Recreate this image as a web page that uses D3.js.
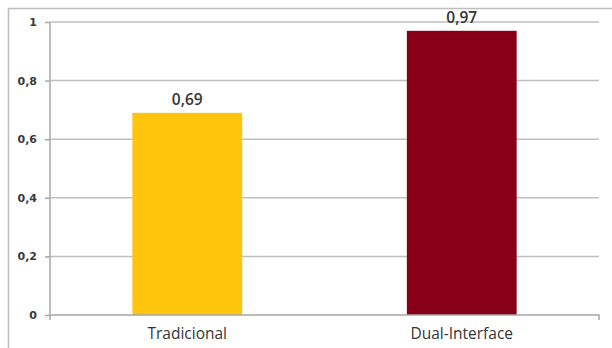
<!DOCTYPE html>
<html>
<head>
<meta charset="utf-8">
<script src="https://cdn.jsdelivr.net/npm/d3@7/dist/d3.min.js"></script>
<style>
  html, body { margin: 0; padding: 0; background: #fff; }
  svg { display: block; }
</style>
</head>
<body>
<svg id="chart" width="612" height="348"></svg>
<script>
// Chart data
const categories = ["Tradicional", "Dual-Interface"];
const values = [0.69, 0.97];
const barColors = ["#FFC50D", "#870018"];
const yTicks = [0, 0.2, 0.4, 0.6, 0.8, 1];
const yTickLabels = ["0", "0,2", "0,4", "0,6", "0,8", "1"];
const valueLabels = ["0,69", "0,97"];

(function () {
  const svg = d3.select("#chart");
  const W = 612, H = 348;
  const plotLeft = 50, plotRight = 599, plotTop = 22, plotBottom = 315;

  // Outer chart frame (top and left edges visible)
  svg.append("path")
    .attr("d", `M8.5,${H} V8.5 H${W}`)
    .attr("fill", "none")
    .attr("stroke", "#bdbdbd")
    .attr("stroke-width", 1.5);

  const x = d3.scaleBand()
    .domain(categories)
    .range([plotLeft, plotRight])
    .paddingInner(0.6)
    .paddingOuter(0.3);

  const y = d3.scaleLinear().domain([0, 1]).range([plotBottom, plotTop]);

  // Horizontal gridlines
  svg.append("g")
    .selectAll("line")
    .data(yTicks.filter(d => d > 0))
    .join("line")
    .attr("x1", plotLeft).attr("x2", plotRight)
    .attr("y1", d => y(d)).attr("y2", d => y(d))
    .attr("stroke", "#bfbfbf")
    .attr("stroke-width", 1.5);

  // Bars
  svg.append("g")
    .selectAll("rect")
    .data(values)
    .join("rect")
    .attr("x", (d, i) => x(categories[i]))
    .attr("width", x.bandwidth())
    .attr("y", d => y(d))
    .attr("height", d => y(0) - y(d))
    .attr("fill", (d, i) => barColors[i]);

  // Y axis
  const yAxis = d3.axisLeft(y)
    .tickValues(yTicks)
    .tickFormat((d, i) => yTickLabels[i])
    .tickSize(5)
    .tickPadding(8);

  const gy = svg.append("g")
    .attr("transform", `translate(${plotLeft},0)`)
    .call(yAxis);
  gy.select(".domain").remove();
  gy.selectAll(".tick line").attr("stroke", "#a6a6a6").attr("stroke-width", 1.5);
  gy.selectAll(".tick text")
    .attr("font-family", "'DejaVu Sans', Verdana, sans-serif")
    .attr("font-size", 11)
    .attr("font-weight", "bold")
    .attr("fill", "#3a3a3a");

  // Vertical axis line (extends slightly below zero)
  svg.append("line")
    .attr("x1", plotLeft).attr("x2", plotLeft)
    .attr("y1", plotTop).attr("y2", plotBottom + 5)
    .attr("stroke", "#a6a6a6")
    .attr("stroke-width", 1.5);

  // X axis baseline with end tick
  svg.append("path")
    .attr("d", `M${plotLeft},${plotBottom} H${plotRight} V${plotBottom + 5}`)
    .attr("fill", "none")
    .attr("stroke", "#a6a6a6")
    .attr("stroke-width", 1.5);

  // Category labels
  svg.append("g")
    .selectAll("text")
    .data(categories)
    .join("text")
    .attr("x", d => x(d) + x.bandwidth() / 2)
    .attr("y", 339)
    .attr("text-anchor", "middle")
    .attr("font-family", "'Open Sans', 'Liberation Sans', sans-serif")
    .attr("font-size", 15.5)
    .attr("font-weight", 500)
    .attr("fill", "#353535")
    .text(d => d);

  // Value labels above bars
  svg.append("g")
    .selectAll("text")
    .data(values)
    .join("text")
    .attr("x", (d, i) => x(categories[i]) + x.bandwidth() / 2)
    .attr("y", d => y(d) - 8)
    .attr("text-anchor", "middle")
    .attr("font-family", "'Open Sans', 'Liberation Sans', sans-serif")
    .attr("font-size", 15.5)
    .attr("font-weight", 600)
    .attr("fill", "#353535")
    .text((d, i) => valueLabels[i]);
})();
</script>
</body>
</html>
